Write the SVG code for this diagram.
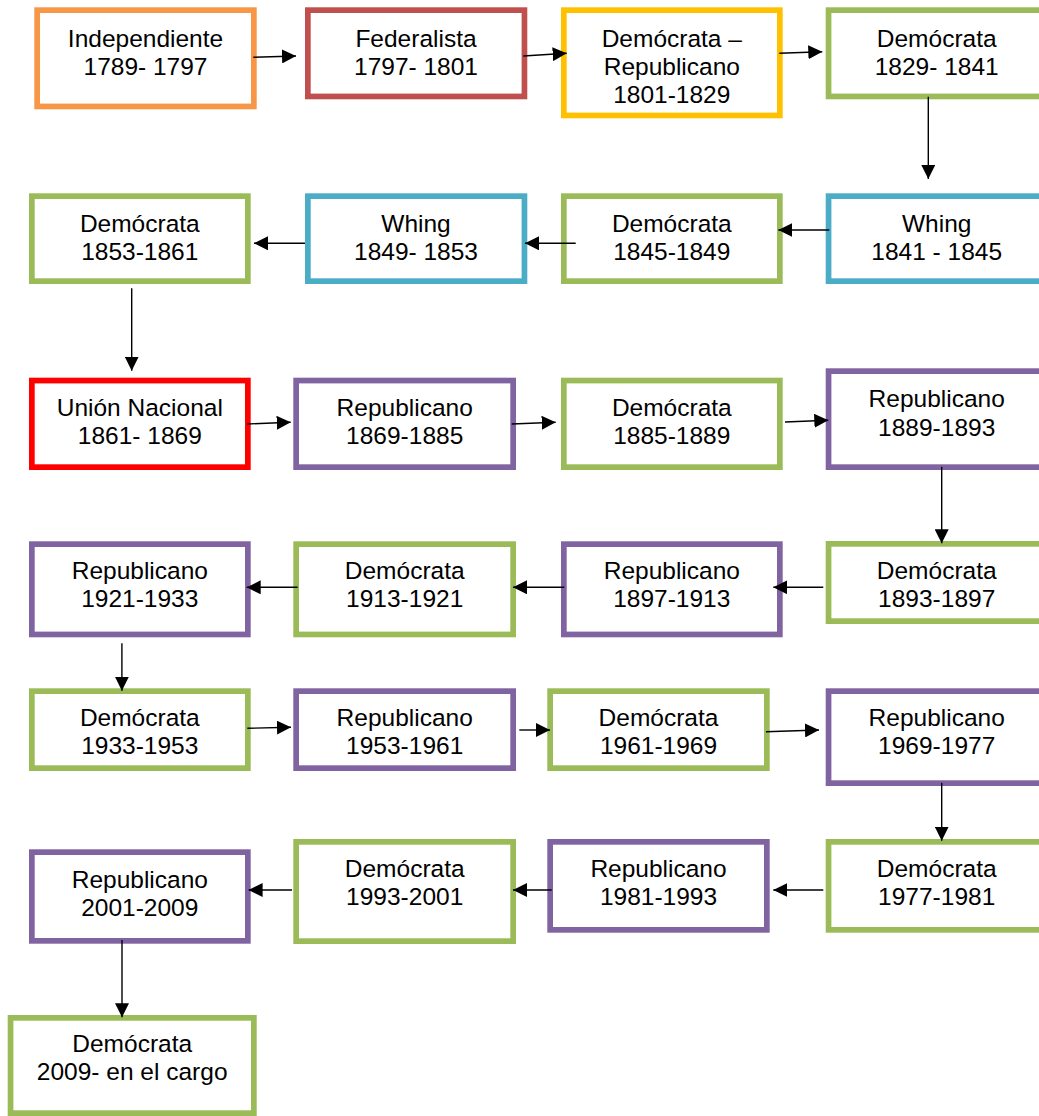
<svg xmlns="http://www.w3.org/2000/svg" width="1039" height="1116" viewBox="0 0 1039 1116">
<style>
.b{fill:#fff;stroke-width:5.7}
.or{stroke:#F79646}.rd{stroke:#C0504D}.yl{stroke:#FFC000}.gr{stroke:#9BBB59}.bl{stroke:#4BACC6}.pu{stroke:#8064A2}.rr{stroke:#FF0000}
text{font-family:"Liberation Sans",Arial,sans-serif;font-size:24.5px;fill:#000;text-anchor:middle}
.c line{stroke:#000;stroke-width:1.4;marker-end:url(#ah)}
</style>
<defs>
<marker id="ah" markerUnits="userSpaceOnUse" markerWidth="14" markerHeight="14" refX="14" refY="7" orient="auto"><path d="M0,0 L14,7 L0,14 z" fill="#000"/></marker>
</defs>
<rect width="1039" height="1116" fill="#fff"/>
<g id="n1"><rect class="b or" x="37.15" y="10.15" width="216.7" height="96.3"/><text x="145.5" y="46.5">Independiente</text><text x="145.5" y="74.8">1789- 1797</text></g>
<g id="n2"><rect class="b rd" x="307.85" y="10.15" width="216.6" height="86.3"/><text x="416" y="46.5">Federalista</text><text x="416" y="74.8">1797- 1801</text></g>
<g id="n3"><rect class="b yl" x="563.85" y="10.15" width="216" height="105.3"/><text x="671.8" y="46.5">Demócrata –</text><text x="671.8" y="74.6">Republicano</text><text x="671.8" y="102.7">1801-1829</text></g>
<g id="n4"><rect class="b gr" x="828.55" y="10.15" width="216.3" height="86.3"/><text x="936.7" y="46.5">Demócrata</text><text x="936.7" y="74.8">1829- 1841</text></g>
<g id="n5"><rect class="b bl" x="828.55" y="196.15" width="216.3" height="85"/><text x="936.7" y="231.7">Whing</text><text x="936.7" y="260">1841 - 1845</text></g>
<g id="n6"><rect class="b gr" x="563.85" y="196.15" width="216" height="85"/><text x="671.8" y="231.7">Demócrata</text><text x="671.8" y="260">1845-1849</text></g>
<g id="n7"><rect class="b bl" x="307.85" y="196.15" width="216.6" height="85"/><text x="416" y="231.7">Whing</text><text x="416" y="260">1849- 1853</text></g>
<g id="n8"><rect class="b gr" x="31.85" y="196.15" width="216" height="85"/><text x="139.8" y="231.7">Demócrata</text><text x="139.8" y="260">1853-1861</text></g>
<g id="n9"><rect class="b rr" x="31.85" y="380.55" width="216" height="86.6"/><text x="139.8" y="416">Unión Nacional</text><text x="139.8" y="444.3">1861- 1869</text></g>
<g id="n10"><rect class="b pu" x="296.15" y="380.55" width="217" height="86.6"/><text x="404.7" y="416">Republicano</text><text x="404.7" y="444.3">1869-1885</text></g>
<g id="n11"><rect class="b gr" x="563.85" y="380.55" width="216" height="86.6"/><text x="671.8" y="416">Demócrata</text><text x="671.8" y="444.3">1885-1889</text></g>
<g id="n12"><rect class="b pu" x="828.55" y="371.15" width="216.3" height="96"/><text x="936.7" y="407.3">Republicano</text><text x="936.7" y="435.7">1889-1893</text></g>
<g id="n13"><rect class="b gr" x="828.55" y="543.85" width="216.3" height="77.3"/><text x="936.7" y="578.5">Demócrata</text><text x="936.7" y="607">1893-1897</text></g>
<g id="n14"><rect class="b pu" x="563.85" y="544.15" width="216" height="90.3"/><text x="671.8" y="578.5">Republicano</text><text x="671.8" y="607">1897-1913</text></g>
<g id="n15"><rect class="b gr" x="296.15" y="544.15" width="217" height="90.3"/><text x="404.7" y="578.5">Demócrata</text><text x="404.7" y="607">1913-1921</text></g>
<g id="n16"><rect class="b pu" x="31.85" y="544.15" width="216" height="90.3"/><text x="139.8" y="578.5">Republicano</text><text x="139.8" y="607">1921-1933</text></g>
<g id="n17"><rect class="b gr" x="31.85" y="691.15" width="216" height="77"/><text x="139.8" y="726">Demócrata</text><text x="139.8" y="754.3">1933-1953</text></g>
<g id="n18"><rect class="b pu" x="296.15" y="691.15" width="217" height="77"/><text x="404.7" y="726">Republicano</text><text x="404.7" y="754.3">1953-1961</text></g>
<g id="n19"><rect class="b gr" x="550.15" y="691.15" width="216.7" height="77"/><text x="658.5" y="726">Demócrata</text><text x="658.5" y="754.3">1961-1969</text></g>
<g id="n20"><rect class="b pu" x="828.55" y="691.15" width="216.3" height="92"/><text x="936.7" y="726">Republicano</text><text x="936.7" y="754.3">1969-1977</text></g>
<g id="n21"><rect class="b gr" x="828.55" y="841.85" width="216.3" height="88"/><text x="936.7" y="876.7">Demócrata</text><text x="936.7" y="905">1977-1981</text></g>
<g id="n22"><rect class="b pu" x="550.15" y="841.85" width="216.7" height="88"/><text x="658.5" y="876.7">Republicano</text><text x="658.5" y="905">1981-1993</text></g>
<g id="n23"><rect class="b gr" x="296.15" y="841.85" width="217" height="99.3"/><text x="404.7" y="876.7">Demócrata</text><text x="404.7" y="905">1993-2001</text></g>
<g id="n24"><rect class="b pu" x="31.85" y="852.15" width="216" height="88.7"/><text x="139.8" y="887.7">Republicano</text><text x="139.8" y="916">2001-2009</text></g>
<g id="n25"><rect class="b gr" x="10.55" y="1017.85" width="243.3" height="95.3"/><text x="132.2" y="1051.7">Demócrata</text><text x="132.2" y="1080">2009- en el cargo</text></g>
<g id="connectors" class="c">
<line x1="253.3" y1="57.3" x2="296" y2="56"/>
<line x1="523.3" y1="56" x2="566.7" y2="53.3"/>
<line x1="779.3" y1="53.3" x2="822.3" y2="51.7"/>
<line x1="928.3" y1="96.7" x2="928.3" y2="179"/>
<line x1="829.3" y1="230" x2="778.3" y2="230"/>
<line x1="575.7" y1="243.3" x2="525" y2="243.3"/>
<line x1="305" y1="243.3" x2="254" y2="243.3"/>
<line x1="131.7" y1="288.3" x2="131.7" y2="370.7"/>
<line x1="247.3" y1="424" x2="290.7" y2="422.3"/>
<line x1="511.7" y1="424" x2="555.7" y2="422.3"/>
<line x1="785" y1="422" x2="828.3" y2="420.3"/>
<line x1="941.7" y1="466.7" x2="941.7" y2="543.3"/>
<line x1="823.3" y1="587.3" x2="773.3" y2="587.3"/>
<line x1="564.3" y1="587.3" x2="513" y2="587.3"/>
<line x1="297.7" y1="587.3" x2="246.7" y2="587.3"/>
<line x1="121.9" y1="643.3" x2="121.9" y2="690.7"/>
<line x1="247.3" y1="728.3" x2="291" y2="727.3"/>
<line x1="519.3" y1="730" x2="550" y2="730"/>
<line x1="766" y1="731.7" x2="819" y2="730"/>
<line x1="941.7" y1="782.7" x2="941.7" y2="840.7"/>
<line x1="823.3" y1="890" x2="773.3" y2="890"/>
<line x1="551.7" y1="890" x2="513" y2="890"/>
<line x1="292" y1="890" x2="248.6" y2="890"/>
<line x1="122" y1="940" x2="122" y2="1017.3"/>
</g>
</svg>
